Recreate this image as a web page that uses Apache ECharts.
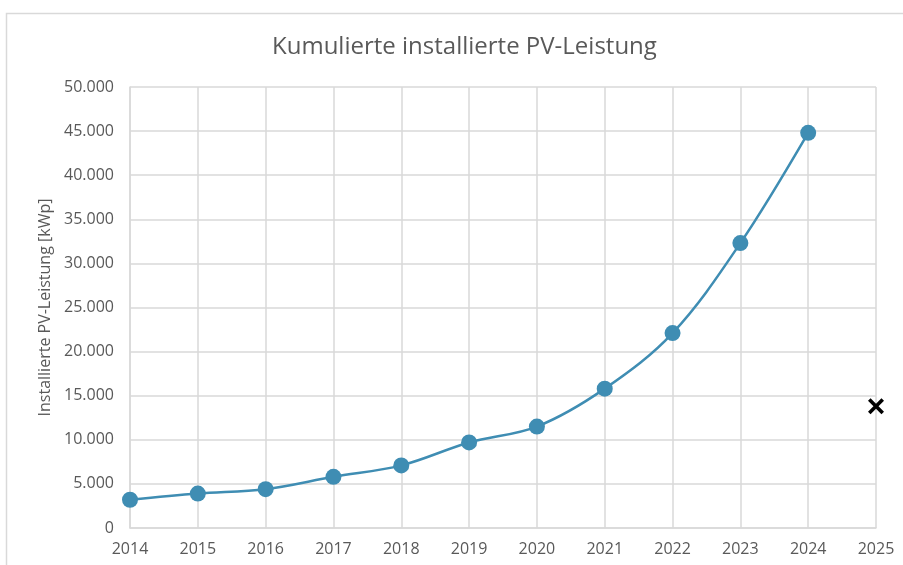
<!DOCTYPE html>
<html>
<head>
<meta charset="utf-8">
<script src="https://cdn.jsdelivr.net/npm/echarts@6/dist/echarts.min.js"></script>
<style>
  html, body { margin: 0; padding: 0; background: #fff; }
  #main { width: 903px; height: 565px; }
</style>
</head>
<body>
<div id="main"></div>
<script>
// Jahre und kumulierte Leistung (kWp)
const years = [2014, 2015, 2016, 2017, 2018, 2019, 2020, 2021, 2022, 2023, 2024];
const leistung = [3200, 3900, 4400, 5800, 7100, 9700, 11500, 15800, 22100, 32300, 44800];
// einzelner Punkt (Kreuz) bei 2025
const kreuzJahr = [2025];
const kreuzWert = [13800];

const grau = "#595959";
const gitter = "#d9d9d9";
const blau = "#3f8db3";

const chart = echarts.init(document.getElementById("main"));

// deutsches Zahlenformat: Tausenderpunkt
const fmtDe = (v) => String(v).replace(/\B(?=(\d{3})+(?!\d))/g, ".");

const option = {
  backgroundColor: "#fff",
  animation: false,
  title: {
    text: "Kumulierte installierte PV-Leistung",
    left: 267,
    top: 30,
    textStyle: { color: grau, fontSize: 24, fontWeight: "normal", fontFamily: "Open Sans" },
  },
  graphic: [
    {
      type: "rect",
      shape: { x: 6.5, y: 13.5, width: 1000, height: 1000 },
      style: { fill: "none", stroke: gitter, lineWidth: 1.5 },
      silent: true,
    },
  ],
  grid: { left: 130, right: 27, top: 87, bottom: 37 },
  xAxis: {
    type: "value",
    min: 2014,
    max: 2025,
    interval: 1,
    axisLine: { show: true, lineStyle: { color: gitter, width: 1.5 } },
    axisTick: { show: false },
    splitLine: { show: true, lineStyle: { color: gitter, width: 1.5 } },
    axisLabel: { color: grau, fontSize: 16, fontFamily: "Open Sans", margin: 13, formatter: (v) => String(v) },
  },
  yAxis: {
    type: "value",
    min: 0,
    max: 50000,
    interval: 5000,
    name: "Installierte PV-Leistung [kWp]",
    nameLocation: "middle",
    nameGap: 74,
    nameTextStyle: { color: grau, fontSize: 16, fontFamily: "Open Sans" },
    axisLine: { show: true, lineStyle: { color: gitter, width: 1.5 } },
    axisTick: { show: false },
    splitLine: { show: true, lineStyle: { color: gitter, width: 1.5 } },
    axisLabel: { color: grau, fontSize: 16, fontFamily: "Open Sans", margin: 16, formatter: fmtDe },
  },
  series: [
    {
      type: "line",
      data: years.map((y, i) => [y, leistung[i]]),
      smooth: 0.35,
      symbol: "circle",
      symbolSize: 16,
      lineStyle: { color: blau, width: 2.5 },
      itemStyle: { color: blau },
    },
    {
      type: "scatter",
      data: kreuzJahr.map((y, i) => [y, kreuzWert[i]]),
      symbol: "path://M0,1.6 L1.6,0 L5,3.4 L8.4,0 L10,1.6 L6.6,5 L10,8.4 L8.4,10 L5,6.6 L1.6,10 L0,8.4 L3.4,5 Z",
      symbolSize: 16,
      itemStyle: { color: "#000", opacity: 1 },
    },
  ],
};

chart.setOption(option);
</script>
</body>
</html>
